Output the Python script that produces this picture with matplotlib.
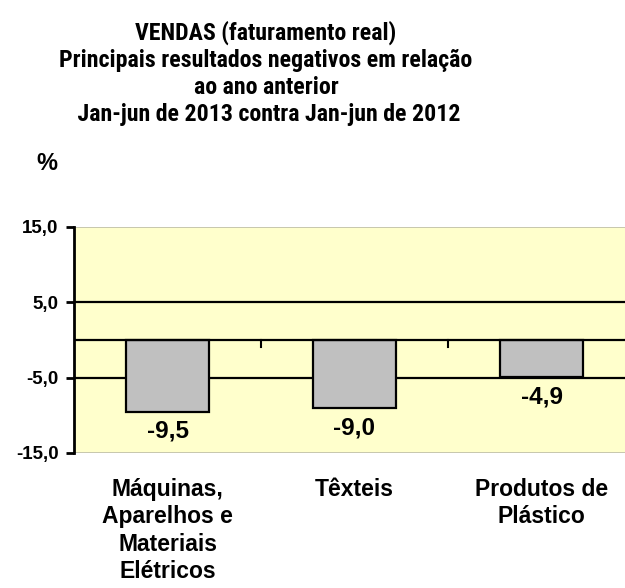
import matplotlib
matplotlib.use("Agg")
import matplotlib.pyplot as plt
from matplotlib.transforms import blended_transform_factory

categories = ["Máquinas,\nAparelhos e\nMateriais\nElétricos", "Têxteis", "Produtos de\nPlástico"]
values = [-9.5, -9.0, -4.9]
value_labels = ["-9,5", "-9,0", "-4,9"]
yticks = [-15, -5, 5, 15]
ytick_labels = ["-15,0", "-5,0", "5,0", "15,0"]
title_lines = ["VENDAS (faturamento real)",
               "Principais resultados negativos em relação",
               "ao ano anterior",
               " Jan-jun de 2013 contra Jan-jun de 2012"]

plt.rcParams['font.family'] = ['Liberation Sans', 'DejaVu Sans']
narrow = ['Roboto Condensed', 'PT Sans Narrow', 'Liberation Sans', 'DejaVu Sans']

W, H = 625, 588
fig = plt.figure(figsize=(W / 100, H / 100), dpi=100)

ax_left, ax_right, ax_top, ax_bot = 74, 635, 227, 453
ax = fig.add_axes([ax_left / W, 1 - ax_bot / H, (ax_right - ax_left) / W, (ax_bot - ax_top) / H])
ax.set_facecolor("#FFFFCC")
ax.set_xlim(-0.5, 2.5)
ax.set_ylim(-15, 15)

for g in [5, -5]:
    ax.axhline(g, color="black", lw=1.6, zorder=1)
ax.axhline(0, color="black", lw=1.6, zorder=3)
ax.axhline(15, color="#BDBDA8", lw=1.2, zorder=1)
ax.axhline(-15, color="#BDBDA8", lw=1.2, zorder=1)

x = list(range(len(values)))
ax.bar(x, values, width=0.44, color="#C0C0C0", edgecolor="black", linewidth=1.6, zorder=2)

for xi, v, lab in zip(x, values, value_labels):
    ax.annotate(lab, (xi, v), xytext=(0, -6), textcoords="offset points",
                ha="center", va="top", fontsize=17.5, fontweight="bold")

for xb in [0.5, 1.5]:
    ax.plot([xb, xb], [0, -0.9], color="black", lw=1.5, zorder=3)

for s in ["top", "right", "bottom"]:
    ax.spines[s].set_visible(False)
ax.spines["left"].set_linewidth(2)
ax.spines["left"].set_zorder(4)
ax.set_yticks(yticks)
ax.set_yticklabels(ytick_labels, fontsize=13.5, fontweight="bold")
ax.tick_params(axis="y", direction="out", length=6, width=2, pad=5)
ax.set_xticks([])

tr = blended_transform_factory(ax.transData, ax.transAxes)
for xi, c in zip(x, categories):
    ax.text(xi, -0.11, c, transform=tr, ha="center", va="top", fontsize=16.5,
            fontweight="bold", linespacing=1.25)

for i, line in enumerate(title_lines):
    fig.text(266 / W, 1 - (33 + 27.3 * i) / H, line, ha="center", va="center",
             fontsize=17.2, fontweight="bold", family=narrow)
fig.text(47 / W, 1 - 163 / H, "%", ha="center", va="center", fontsize=17, fontweight="bold")

fig.savefig("out.png", dpi=100)
